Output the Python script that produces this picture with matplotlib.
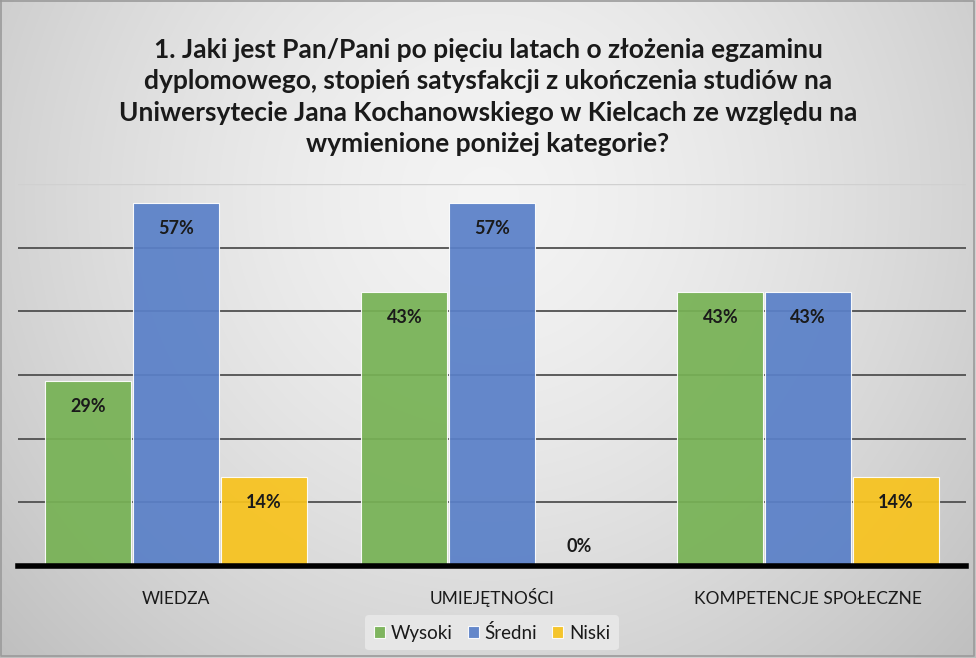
import matplotlib
matplotlib.use("Agg")
import matplotlib.pyplot as plt
import numpy as np
from matplotlib.transforms import blended_transform_factory

categories = ["WIEDZA", "UMIEJĘTNOŚCI", "KOMPETENCJE SPOŁECZNE"]
series_names = ["Wysoki", "Średni", "Niski"]
wysoki = [29, 43, 43]
sredni = [57, 57, 43]
niski = [14, 0, 14]
colors = ["#77B255", "#5A80C8", "#F7C31E"]
title = ("1. Jaki jest Pan/Pani po pięciu latach o złożenia egzaminu\n"
         "dyplomowego, stopień satysfakcji z ukończenia studiów na\n"
         "Uniwersytecie Jana Kochanowskiego w Kielcach ze względu na\n"
         "wymienione poniżej kategorie?")

plt.rcParams['font.family'] = ['Lato', 'DejaVu Sans']

W, H = 976, 658
fig = plt.figure(figsize=(W / 100, H / 100), dpi=100)

# background gradient
bg = fig.add_axes([0, 0, 1, 1])
yy, xx = np.mgrid[0:H, 0:W]
r = np.sqrt(((xx - W * 0.5) / (W * 0.6)) ** 2 + ((yy - H * 0.3) / (H * 0.9)) ** 2)
vals = np.clip(0.955 - 0.17 * r ** 1.5, 0.74, 1.0)
img = np.dstack([vals, vals, vals])
bg.imshow(img, extent=[0, W, H, 0], aspect='auto')
bg.plot([1, W - 2, W - 2, 1, 1], [1, 1, H - 2, H - 2, 1], color="#9A9A9A", lw=1.2)
bg.set_xlim(0, W); bg.set_ylim(H, 0)
bg.axis('off')

# plot axes: x 18..966 px, y 184..566 px
ax = fig.add_axes([18 / W, (H - 566) / H, (966 - 18) / W, (566 - 184) / H])
ax.patch.set_alpha(0)
x = np.arange(len(categories))
bw = 0.272
data = [wysoki, sredni, niski]
for i, (vals_s, c, name) in enumerate(zip(data, colors, series_names)):
    pos = x + (i - 1) * (bw + 0.005)
    ax.bar(pos, vals_s, width=bw, color=c, edgecolor="white", linewidth=0.8,
           label=name, zorder=2, alpha=0.93)
    for xp, v in zip(pos, vals_s):
        ypos = v - 4.0 if v > 0 else 3.0
        ax.text(xp, ypos, f"{v}%", ha="center", va="center", fontsize=13,
                fontweight="bold", color="#1A1A1A", zorder=4)

ax.set_ylim(0, 60)
ax.set_xlim(-0.5, 2.5)
ax.set_yticks([10, 20, 30, 40, 50])
ax.yaxis.grid(True, color="#505050", linewidth=1.3, zorder=1)
ax.axhline(60, color="#D0D0D0", lw=1, zorder=1)
ax.set_axisbelow(True)
ax.tick_params(axis='y', left=False, labelleft=False)
ax.tick_params(axis='x', bottom=False, labelbottom=False)
ax.set_xticks(x)
trans = blended_transform_factory(ax.transData, fig.transFigure)
for xi, cat in zip(x, categories):
    ax.text(xi, 1 - 604 / H, cat, transform=trans, ha="center", va="baseline",
            fontsize=12.5, color="#1A1A1A")
for s in ["top", "left", "right"]:
    ax.spines[s].set_visible(False)
ax.spines["bottom"].set_color("black")
ax.spines["bottom"].set_linewidth(4)
ax.spines["bottom"].set_zorder(5)

fig.text(0.5, 1 - 97 / H, title, ha="center", va="center", fontsize=19,
         fontweight="bold", color="#1A1A1A", linespacing=1.38)

leg = ax.legend(loc="center", bbox_to_anchor=(0.5, -0.175), ncol=3, frameon=True,
                fontsize=13.5, handlelength=0.6, handleheight=0.6, handletextpad=0.3,
                columnspacing=0.8, borderpad=0.45)
leg.get_frame().set_facecolor("#E6E6E6")
leg.get_frame().set_edgecolor("none")
leg.get_frame().set_alpha(1)
for t in leg.get_texts():
    t.set_color("#1A1A1A")

fig.savefig("out.png", dpi=100)
